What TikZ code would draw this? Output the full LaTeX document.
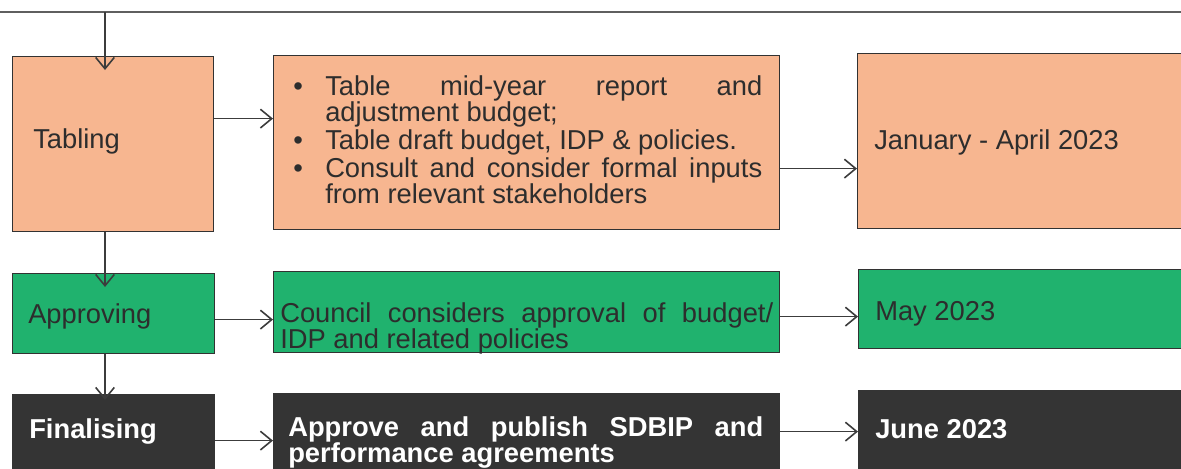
\documentclass[tikz,border=0pt]{standalone}
\usepackage{fontspec}
\setmainfont{Liberation Sans}
\usetikzlibrary{arrows.meta}
\definecolor{peach}{RGB}{247,182,144}
\definecolor{leaf}{RGB}{32,178,110}
\definecolor{coal}{RGB}{52,52,52}
\definecolor{ink}{RGB}{45,45,45}
\definecolor{edge}{RGB}{50,50,50}
\definecolor{wire}{RGB}{60,60,60}
\definecolor{rulecol}{RGB}{95,95,95}
\newcommand\bulletitem[1]{\hangindent=24pt\hangafter=1\noindent\makebox[24pt][l]{\textbullet}#1\par}

\begin{document}
\begin{tikzpicture}[x=0.75pt, y=-0.75pt, >={Straight Barb[length=8.5pt,width=14pt]},
	box/.style={draw=edge, line width=0.9pt, anchor=north west, inner sep=0pt},
	txt/.style={anchor=base west, inner sep=0pt, text=ink, font=\fontsize{20.5pt}{19.5pt}\selectfont},
	wtxt/.style={txt, text=white, font=\fontsize{20.5pt}{19pt}\selectfont\bfseries},
	arr/.style={->, draw=wire, line width=1.2pt}]
	\useasboundingbox (0,0) rectangle (1181,468);
	\clip (0,0) rectangle (1181,468);
	\coordinate (rulew) at (0,12);
	\coordinate (rulee) at (1181,12);
	\coordinate (drop) at (105,12);
	\draw[rulecol, line width=0.8pt] (rulew) -- (rulee);
	\node[box, fill=peach, minimum width=150.75pt, minimum height=131.25pt] (tab) at (12,56) {};
	\node[box, fill=peach, minimum width=379.5pt, minimum height=130.5pt] (list1) at (273,55) {};
	\node[box, fill=peach, minimum width=300pt, minimum height=131.25pt] (date1) at (857,53) {};
	\node[box, fill=leaf, minimum width=151.5pt, minimum height=60pt] (app) at (12,273) {};
	\node[box, fill=leaf, minimum width=379.5pt, minimum height=60.75pt] (pol2) at (273,271) {};
	\node[box, fill=leaf, minimum width=300pt, minimum height=59.25pt] (date2) at (858,269) {};
	\node[box, draw=coal, fill=coal, minimum width=151.5pt, minimum height=75pt] (fin) at (12,394) {};
	\node[box, draw=coal, fill=coal, minimum width=379.5pt, minimum height=75pt] (pub3) at (273,393) {};
	\node[box, draw=coal, fill=coal, minimum width=300pt, minimum height=75pt] (date3) at (858,390) {};
	\node[txt] (tabtxt) at (33,148) {Tabling};
	\node[txt, text width=351.75pt, align=justify] (list1txt) at (293,95) {%
		\bulletitem{Table mid-year report and\linebreak adjustment budget;}\vspace{1.5pt}%
		\bulletitem{Table draft budget, IDP \& policies.}\vspace{1.5pt}%
		\bulletitem{Consult and consider formal inputs\linebreak from relevant stakeholders}};
	\node[txt] (date1txt) at (874,149) {January - April 2023};
	\node[txt] (apptxt) at (28,323) {Approving};
	\node[txt, text width=369.75pt, align=justify, font=\fontsize{20.5pt}{17pt}\selectfont] (pol2txt) at (280,322) {Council considers approval of budget/\linebreak IDP and related policies};
	\node[txt] (date2txt) at (875,320) {May 2023};
	\node[wtxt] (fintxt) at (29,438) {Finalising};
	\node[wtxt, text width=356.25pt, align=justify] (pub3txt) at (288,436) {Approve and publish SDBIP and\linebreak performance agreements};
	\node[wtxt] (date3txt) at (875,438) {June 2023};
	\draw[arr, shorten >=-10.5pt] (drop) -- (drop |- tab.north);
	\draw[arr, shorten >=-10.5pt] (drop |- tab.south) -- (drop |- app.north);
	\draw[arr, shorten >=-4.5pt] (drop |- app.south) -- (drop |- fin.north);
	\draw[arr] ([shift={(0,-25.5)}]tab.east) -- ([shift={(0,-24)}]list1.west);
	\draw[arr] ([shift={(0,26)}]list1.east) -- ([shift={(0,27.5)}]date1.west);
	\draw[arr] ([shift={(0,6)}]app.east) -- ([shift={(0,7.5)}]pol2.west);
	\draw[arr] ([shift={(0,4.5)}]pol2.east) -- ([shift={(0,7.5)}]date2.west);
	\draw[arr] ([shift={(0,-4)}]fin.east) -- ([shift={(0,-3)}]pub3.west);
	\draw[arr] ([shift={(0,-12)}]pub3.east) -- ([shift={(0,-9)}]date3.west);
\end{tikzpicture}
\end{document}
